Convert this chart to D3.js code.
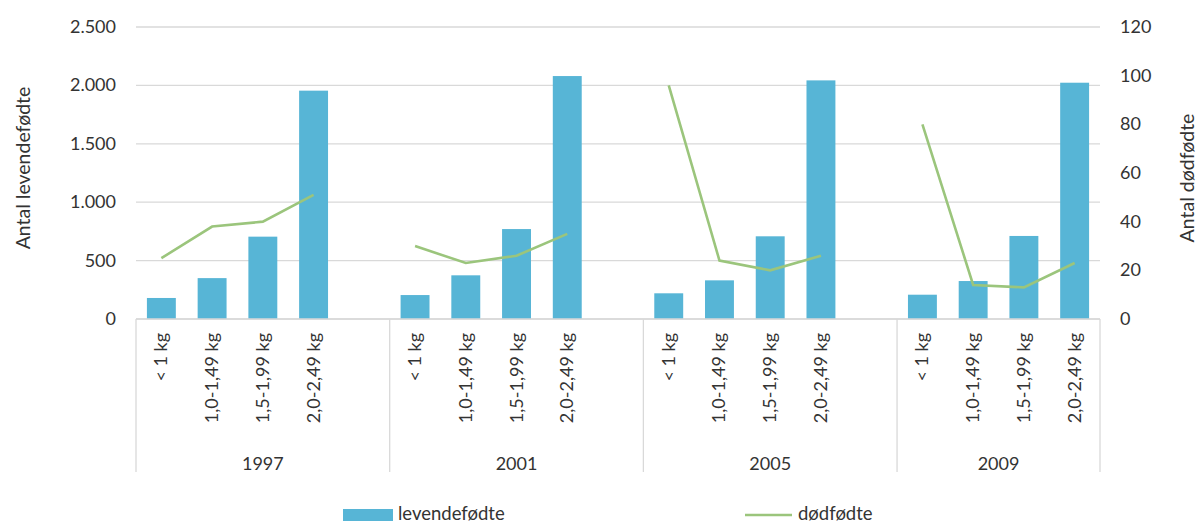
<!DOCTYPE html>
<html>
<head>
<meta charset="utf-8">
<script src="https://cdn.jsdelivr.net/npm/d3@7/dist/d3.min.js"></script>
<style>
  body { margin: 0; background: #fff; }
  text { font-family: Lato, "Open Sans", sans-serif; fill: #333; }
</style>
</head>
<body>
<div id="chart"></div>
<script>
var years = ["1997", "2001", "2005", "2009"];
var weights = ["< 1 kg", "1,0-1,49 kg", "1,5-1,99 kg", "2,0-2,49 kg"];
// levendefødte per year (left axis)
var levende1997 = [180, 350, 705, 1955];
var levende2001 = [205, 374, 770, 2080];
var levende2005 = [220, 331, 708, 2043];
var levende2009 = [208, 325, 711, 2023];
// dødfødte per year (right axis)
var dod1997 = [25, 38, 40, 51];
var dod2001 = [30, 23, 26, 35];
var dod2005 = [96, 24, 20, 26];
var dod2009 = [80, 14, 13, 23];
var leftTicks = [0, 500, 1000, 1500, 2000, 2500];
var rightTicks = [0, 20, 40, 60, 80, 100, 120];

var levende = [levende1997, levende2001, levende2005, levende2009];
var dod = [dod1997, dod2001, dod2005, dod2009];

var width = 1198, height = 524;
var plotLeft = 136, plotRight = 1100, plotTop = 27, plotBottom = 319;

var svg = d3.select("#chart").append("svg")
  .attr("width", width)
  .attr("height", height);

// slots: 4 weights per year, plus an empty slot between years
var slots = [];
years.forEach(function(y, i) {
  weights.forEach(function(w, j) {
    slots.push({key: y + "|" + j, year: y, weight: w, lev: levende[i][j], dod: dod[i][j]});
  });
  if (i < years.length - 1) slots.push({key: y + "|gap", year: y, gap: true});
});

var x = d3.scaleBand()
  .domain(slots.map(function(d) { return d.key; }))
  .range([plotLeft, plotRight])
  .padding(0);

var yL = d3.scaleLinear().domain([0, 2500]).range([plotBottom, plotTop]);
var yR = d3.scaleLinear().domain([0, 120]).range([plotBottom, plotTop]);

var fmt = d3.formatLocale({decimal: ",", thousands: ".", grouping: [3], currency: ["", ""]}).format(",");

// gridlines
svg.append("g").selectAll("line")
  .data(leftTicks)
  .enter().append("line")
  .attr("x1", plotLeft).attr("x2", plotRight)
  .attr("y1", function(d) { return yL(d); })
  .attr("y2", function(d) { return yL(d); })
  .attr("stroke", "#d9d9d9")
  .attr("stroke-width", 1.3);

// left axis labels
svg.append("g").selectAll("text")
  .data(leftTicks)
  .enter().append("text")
  .attr("x", 116)
  .attr("y", function(d) { return yL(d) + 6; })
  .attr("text-anchor", "end")
  .style("font-size", "18px")
  .text(function(d) { return fmt(d); });

// right axis labels
svg.append("g").selectAll("text")
  .data(rightTicks)
  .enter().append("text")
  .attr("x", 1120)
  .attr("y", function(d) { return yR(d) + 6; })
  .attr("text-anchor", "start")
  .style("font-size", "18px")
  .text(function(d) { return d; });

// axis titles
svg.append("text")
  .attr("transform", "translate(30,168) rotate(-90)")
  .attr("text-anchor", "middle")
  .style("font-size", "19.5px")
  .text("Antal levendefødte");

svg.append("text")
  .attr("transform", "translate(1194,178) rotate(-90)")
  .attr("text-anchor", "middle")
  .style("font-size", "19.5px")
  .text("Antal dødfødte");

// bars
var bw = x.bandwidth() * 0.57;
svg.append("g").selectAll("rect")
  .data(slots.filter(function(d) { return !d.gap; }))
  .enter().append("rect")
  .attr("x", function(d) { return x(d.key) + (x.bandwidth() - bw) / 2; })
  .attr("y", function(d) { return yL(d.lev); })
  .attr("width", bw)
  .attr("height", function(d) { return yL(0) - yL(d.lev); })
  .attr("fill", "#57b5d6");

// line (broken between years)
var line = d3.line()
  .defined(function(d) { return !d.gap; })
  .x(function(d) { return x(d.key) + x.bandwidth() / 2; })
  .y(function(d) { return yR(d.dod); });

svg.append("path")
  .datum(slots)
  .attr("d", line)
  .attr("fill", "none")
  .attr("stroke", "#9bc57c")
  .attr("stroke-width", 2.6);

// x axis base and group separators
svg.append("line")
  .attr("x1", plotLeft).attr("x2", plotRight)
  .attr("y1", plotBottom).attr("y2", plotBottom)
  .attr("stroke", "#d9d9d9").attr("stroke-width", 1.3);

var seps = years.map(function(y) { return x(y + "|0"); }).concat([plotRight]);
svg.append("g").selectAll("line")
  .data(seps)
  .enter().append("line")
  .attr("x1", function(d) { return d; })
  .attr("x2", function(d) { return d; })
  .attr("y1", plotBottom).attr("y2", 472)
  .attr("stroke", "#d9d9d9").attr("stroke-width", 1.3);

// weight labels
svg.append("g").selectAll("text")
  .data(slots.filter(function(d) { return !d.gap; }))
  .enter().append("text")
  .attr("transform", function(d) {
    return "translate(" + (x(d.key) + x.bandwidth() / 2 + 6) + ",333) rotate(-90)";
  })
  .attr("text-anchor", "end")
  .style("font-size", "18px")
  .text(function(d) { return d.weight; });

// year labels
svg.append("g").selectAll("text")
  .data(years)
  .enter().append("text")
  .attr("x", function(y, i) { return (seps[i] + seps[i + 1]) / 2; })
  .attr("y", 470)
  .attr("text-anchor", "middle")
  .style("font-size", "18px")
  .text(function(d) { return d; });

// legend
var lg = svg.append("g");
lg.append("rect")
  .attr("x", 343).attr("y", 509).attr("width", 50).attr("height", 12)
  .attr("fill", "#57b5d6");
lg.append("text")
  .attr("x", 398).attr("y", 520)
  .style("font-size", "18.5px")
  .text("levendefødte");
lg.append("line")
  .attr("x1", 745).attr("x2", 792).attr("y1", 515).attr("y2", 515)
  .attr("stroke", "#9bc57c").attr("stroke-width", 2.6);
lg.append("text")
  .attr("x", 798).attr("y", 520)
  .style("font-size", "18.5px")
  .text("dødfødte");
</script>
</body>
</html>
